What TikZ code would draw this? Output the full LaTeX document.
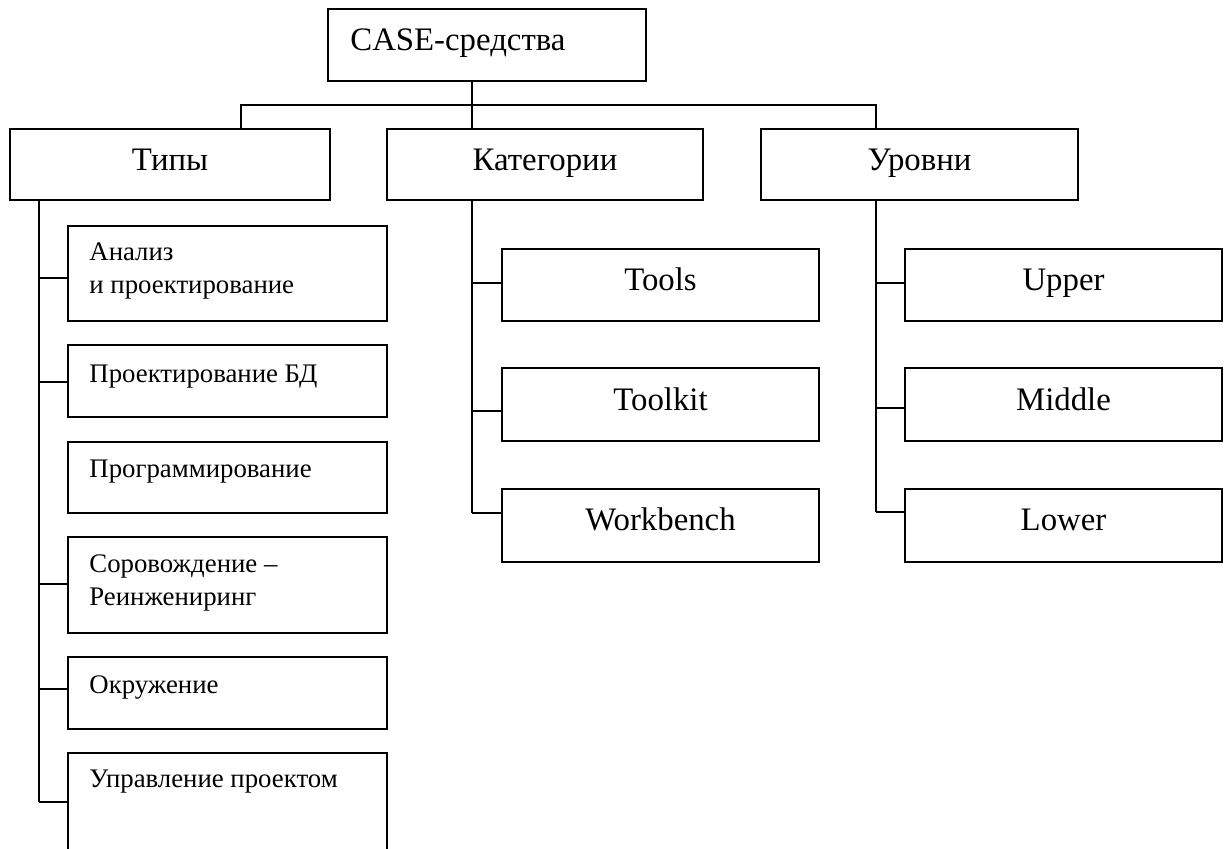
\documentclass[tikz,border=0pt]{standalone}
\usepackage{fontspec}
\setmainfont{Liberation Serif}
\usetikzlibrary{fit}

\tikzset{
  box/.style={draw=black, line width=0.8pt, rectangle, inner sep=0pt},
  wire/.style={draw=black, line width=0.8pt},
  big/.style={inner sep=0pt, font=\fontsize{16.4}{19}\selectfont},
  small/.style={inner sep=0pt, font=\fontsize{13.4}{16.5}\selectfont},
}
% two-line label whose first baseline is the node's base
\newcommand{\twolines}[2]{\begin{tabular}[t]{@{}l@{}}#1\\#2\end{tabular}}

\begin{document}
\begin{tikzpicture}[x=0.5pt, y=-0.5pt]
  \useasboundingbox (0,0) rectangle (1225,848);

  % root
  \node[box, fit={(328,9) (646,81)}] (case) {};
  \node[big, anchor=base west] (caseT) at (350,50) {CASE-средства};

  % first level
  \node[box, fit={(10,129) (330,200)}] (tip) {};
  \node[big, anchor=base] (tipT) at (170,170) {Типы};
  \node[box, fit={(387,129) (703,200)}] (kat) {};
  \node[big, anchor=base] (katT) at (545,170) {Категории};
  \node[box, fit={(761,129) (1078,200)}] (ur) {};
  \node[big, anchor=base] (urT) at (919.5,170) {Уровни};

  % bus under the root
  \coordinate (jT) at (241,105);
  \coordinate (jK) at (472,105);
  \coordinate (jU) at (876,105);
  \draw[wire] (case.south -| jK) -- (kat.north -| jK);
  \draw[wire] (tip.north -| jT) -- (jT) -- (jU) -- (ur.north -| jU);

  % types
  \node[box, fit={(68,226) (387,321)}] (t1) {};
  \node[small, anchor=base west] (t1T) at (89,260) {\twolines{Анализ}{и проектирование}};
  \node[box, fit={(68,345) (387,417)}] (t2) {};
  \node[small, anchor=base west] (t2T) at (89,382) {Проектирование БД};
  \node[box, fit={(68,442) (387,513)}] (t3) {};
  \node[small, anchor=base west] (t3T) at (89,477) {Программирование};
  \node[box, fit={(68,537) (387,633)}] (t4) {};
  \node[small, anchor=base west] (t4T) at (89,572) {\twolines{Соровождение –}{Реинжениринг}};
  \node[box, fit={(68,657) (387,729)}] (t5) {};
  \node[small, anchor=base west] (t5T) at (89,693) {Окружение};
  \node[box, fit={(68,753) (387,860)}] (t6) {};
  \node[small, anchor=base west] (t6T) at (89,787) {Управление проектом};

  \coordinate (c1) at (39,278);
  \coordinate (c2) at (39,382);
  \coordinate (c4) at (39,584);
  \coordinate (c5) at (39,689);
  \coordinate (c6) at (39,802);
  \draw[wire] (tip.south -| c1) -- (c6);
  \foreach \c/\b in {c1/t1, c2/t2, c4/t4, c5/t5, c6/t6}
    \draw[wire] (\c) -- (\b.west |- \c);

  % categories
  \node[box, fit={(502,249) (819,321)}] (k1) {};
  \node[big, anchor=base] (k1T) at (660.5,290) {Tools};
  \node[box, fit={(502,368) (819,441)}] (k2) {};
  \node[big, anchor=base] (k2T) at (660.5,410) {Toolkit};
  \node[box, fit={(502,489) (819,562)}] (k3) {};
  \node[big, anchor=base] (k3T) at (660.5,530) {Workbench};

  \coordinate (d1) at (472,283);
  \coordinate (d2) at (472,411);
  \coordinate (d3) at (472,513);
  \draw[wire] (kat.south -| d1) -- (d3);
  \foreach \c/\b in {d1/k1, d2/k2, d3/k3}
    \draw[wire] (\c) -- (\b.west |- \c);

  % levels
  \node[box, fit={(905,249) (1222,321)}] (u1) {};
  \node[big, anchor=base] (u1T) at (1063.5,290) {Upper};
  \node[box, fit={(905,368) (1222,441)}] (u2) {};
  \node[big, anchor=base] (u2T) at (1063.5,410) {Middle};
  \node[box, fit={(905,489) (1222,562)}] (u3) {};
  \node[big, anchor=base] (u3T) at (1063.5,530) {Lower};

  \coordinate (e1) at (876,283);
  \coordinate (e2) at (876,408);
  \coordinate (e3) at (876,512);
  \draw[wire] (ur.south -| e1) -- (e3);
  \foreach \c/\b in {e1/u1, e2/u2, e3/u3}
    \draw[wire] (\c) -- (\b.west |- \c);
\end{tikzpicture}
\end{document}
